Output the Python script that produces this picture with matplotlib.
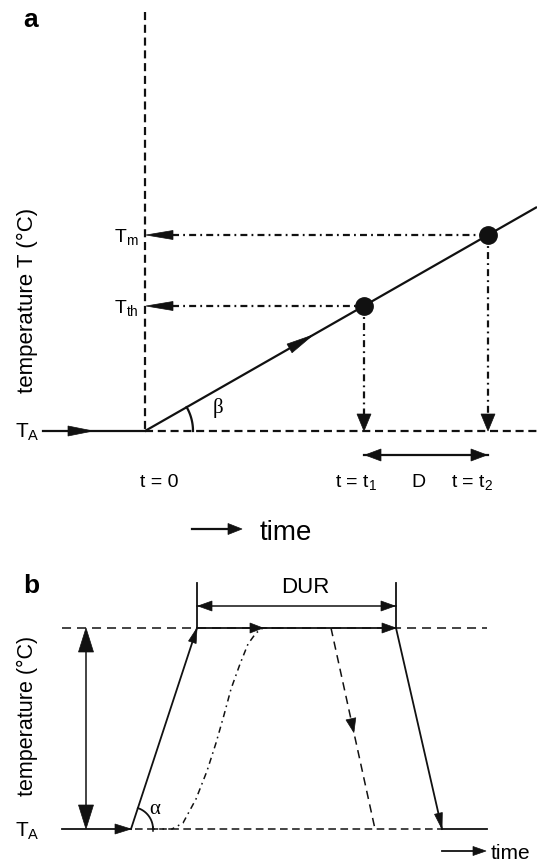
import numpy as np
import matplotlib
matplotlib.use('Agg')
import matplotlib.pyplot as plt
from matplotlib.patches import Polygon

plt.rcParams['font.family'] = ['Liberation Sans', 'DejaVu Sans']
plt.rcParams['mathtext.fontset'] = 'custom'
plt.rcParams['mathtext.rm'] = 'Liberation Sans'
plt.rcParams['mathtext.it'] = 'Liberation Sans'
plt.rcParams['lines.scale_dashes'] = False

# ---------------- data (schematic, pixel units of the figure) ----------------
# panel a
a_t0 = 145                 # time zero
a_TA = 432                 # ambient temperature level
a_axis_top = 13
a_right = 537
a_inflow_x = [43, 145]     # incoming T_A segment
a_ramp_x = [145, 537]
a_ramp_y = [432, 208]
a_event_t = [364, 488]     # t1, t2
a_event_T = [307, 236]     # T_th, T_m
a_event_labels = ['T$_\\mathrm{th}$', 'T$_\\mathrm{m}$']
a_time_labels = ['t = 0', 't = t$_1$', 'D', 't = t$_2$']
a_time_label_x = [159, 356, 418, 472]
a_beta_deg = np.degrees(np.arctan2(a_ramp_y[0] - a_ramp_y[1], a_ramp_x[1] - a_ramp_x[0]))

# panel b
b_high = 629
b_low = 830
b_left = 62
b_right = 487
b_rise = [131, 197]        # start / end of fast heating ramp
b_fall = [396, 442]        # start / end of cooling ramp
b_fall_dash = [331, 375]   # early cooling (dashed)
b_curve_x = [152, 172, 183, 196, 207, 216, 224, 231, 240, 248, 256, 263, 275, 285]
b_curve_y = [830, 830, 824, 800, 772, 744, 716, 690, 665, 645, 634, 629, 629, 629]
b_dur_y = 607
b_tick_top = 584
b_amp_x = 86

ink = '#111111'

fig = plt.figure(figsize=(5.37, 8.62), dpi=100)
ax = fig.add_axes([0, 0, 1, 1])
ax.set_xlim(0, 537)
ax.set_ylim(862, 0)
ax.axis('off')


def head(tip, frm, length, width):
    tip = np.asarray(tip, float)
    frm = np.asarray(frm, float)
    d = tip - frm
    d /= np.hypot(*d)
    n = np.array([-d[1], d[0]])
    base = tip - d * length
    pts = [tip, base + n * width / 2, base - n * width / 2]
    ax.add_patch(Polygon(pts, closed=True, facecolor=ink, edgecolor=ink, lw=0.5, zorder=5))


DASH_A = (0, (5.8, 3.4))
DASHDOT_A = (0, (5.0, 3.0, 1.3, 3.0))
DASH_B = (0, (6.5, 4.3))
DASHDOT_B = (0, (4.5, 3.0, 1.2, 3.0))
LW_A = 1.6
LW_B = 1.1

# ---------------- panel a ----------------
ax.text(23, 27, 'a', fontsize=19, fontweight='bold', ha='left', va='baseline')
ax.plot([a_t0, a_t0], [a_axis_top, a_TA], color=ink, lw=LW_A, ls=DASH_A)
ax.plot([a_t0, a_right], [a_TA, a_TA], color=ink, lw=LW_A, ls=DASH_A)
ax.plot(a_inflow_x, [a_TA, a_TA], color=ink, lw=LW_A)
head((93, a_TA), (43, a_TA), 25, 10)
ax.plot(a_ramp_x, a_ramp_y, color=ink, lw=LW_A, solid_capstyle='butt')
# mid-ramp arrow
sl = (a_ramp_y[0] - a_ramp_y[1]) / (a_ramp_x[1] - a_ramp_x[0])
mx = 313
head((mx, a_ramp_y[0] - (mx - a_ramp_x[0]) * sl), (a_ramp_x[0], a_ramp_y[0]), 27, 10)

for t, T, lab in zip(a_event_t, a_event_T, a_event_labels):
    ax.plot([a_t0 + 10, t], [T, T], color=ink, lw=LW_A, ls=DASHDOT_A)
    head((a_t0 + 1, T), (t, T), 27, 9)
    ax.plot([t, t], [T, a_TA - 10], color=ink, lw=LW_A, ls=DASHDOT_A)
    head((t, a_TA), (t, T), 17, 14)
    ax.plot([t], [T], 'o', color=ink, ms=12.5, zorder=6)
    ax.text(139, T + 6, lab, fontsize=14, ha='right', va='baseline')

ax.text(15, a_TA + 6, 'T$_\\mathrm{A}$', fontsize=15, ha='left', va='baseline')

# beta arc
th = np.radians(np.linspace(0, a_beta_deg, 40))
ax.plot(a_t0 + 48 * np.cos(th), a_TA - 48 * np.sin(th), color=ink, lw=LW_A)
ax.text(218, 408, 'β', fontsize=15, family='Liberation Serif', ha='center', va='center')

# D double arrow
ax.plot(a_event_t, [456, 456], color=ink, lw=LW_A)
head((a_event_t[0] + 1, 456), (a_event_t[1], 456), 16, 12)
head((a_event_t[1] - 1, 456), (a_event_t[0], 456), 16, 12)

for lab, x in zip(a_time_labels, a_time_label_x):
    ax.text(x, 487, lab, fontsize=14, ha='center', va='baseline')

ax.text(27, 300, 'temperature T (°C)', fontsize=16, rotation=90, ha='center', va='center')

# time arrow
ax.plot([192, 230], [530, 530], color=ink, lw=LW_A)
head((242, 530), (192, 530), 14, 11)
ax.text(260, 540, 'time', fontsize=20, ha='left', va='baseline')

# ---------------- panel b ----------------
ax.text(23, 593, 'b', fontsize=19, fontweight='bold', ha='left', va='baseline')
ax.plot([b_left, b_right], [b_high, b_high], color=ink, lw=LW_B, ls=DASH_B)
ax.plot([b_rise[1], b_fall[0]], [b_high, b_high], color=ink, lw=LW_B + 0.2)
head((263, b_high), (b_rise[1], b_high), 13, 10)
head((b_fall[0], b_high), (b_rise[1], b_high), 14, 10)

ax.plot([b_left, b_rise[0]], [b_low, b_low], color=ink, lw=LW_B + 0.2)
head((b_rise[0], b_low), (b_left, b_low), 16, 10)
ax.plot([b_rise[0] + 4, b_fall[1]], [b_low, b_low], color=ink, lw=LW_B, ls=(0, (5.5, 3.2)))
ax.plot([b_fall[1], b_right], [b_low, b_low], color=ink, lw=LW_B + 0.2)

# amplitude arrow
ax.plot([b_amp_x, b_amp_x], [b_high + 10, b_low - 10], color=ink, lw=LW_B)
head((b_amp_x, b_high), (b_amp_x, b_low), 24, 15)
head((b_amp_x, b_low), (b_amp_x, b_high), 24, 15)

# rising ramp
ax.plot(b_rise, [b_low, b_high], color=ink, lw=LW_B + 0.2)
head((b_rise[1], b_high), (b_rise[0], b_low), 15, 8)
# alpha arc
ang = np.degrees(np.arctan2(b_low - b_high, b_rise[1] - b_rise[0]))
th = np.radians(np.linspace(0, ang, 40))
ax.plot(b_rise[0] + 22 * np.cos(th), b_low - 22 * np.sin(th), color=ink, lw=LW_B + 0.2)
ax.plot([b_rise[0] + 22, b_rise[0] + 22], [b_low - 2, b_low + 2], color=ink, lw=LW_B)
ax.text(155, 810, 'α', fontsize=15, family='Liberation Serif', ha='center', va='center')

# duration markers
for x in [b_rise[1], b_fall[0]]:
    ax.plot([x, x], [b_tick_top, b_high], color=ink, lw=LW_B + 0.2)
ax.plot([b_rise[1], b_fall[0]], [b_dur_y, b_dur_y], color=ink, lw=LW_B)
head((b_rise[1] + 1, b_dur_y), (b_fall[0], b_dur_y), 14, 10)
head((b_fall[0] - 1, b_dur_y), (b_rise[1], b_dur_y), 14, 10)
ax.text(305, 593, 'DUR', fontsize=16, ha='center', va='baseline')

# dash-dot real curve
ax.plot(b_curve_x, b_curve_y, color=ink, lw=LW_B, ls=DASHDOT_B)

# early cooling, dashed
ax.plot(b_fall_dash, [b_high, b_low], color=ink, lw=LW_B, ls=(0, (6, 4)))
fr = 0.52
head((b_fall_dash[0] + fr * (b_fall_dash[1] - b_fall_dash[0]), b_high + fr * (b_low - b_high)),
     (b_fall_dash[0], b_high), 14, 10)

# cooling ramp
ax.plot(b_fall, [b_high, b_low], color=ink, lw=LW_B + 0.2)
head((b_fall[1], b_low), (b_fall[0], b_high), 16, 8)

ax.text(15, 837, 'T$_\\mathrm{A}$', fontsize=15, ha='left', va='baseline')
ax.text(27, 716, 'temperature (°C)', fontsize=15.5, rotation=90, ha='center', va='center')

ax.plot([442, 476], [852, 852], color=ink, lw=LW_B + 0.2)
head((486, 852), (442, 852), 13, 9)
ax.text(491, 859, 'time', fontsize=15, ha='left', va='baseline')

fig.savefig('out.png', dpi=100)
